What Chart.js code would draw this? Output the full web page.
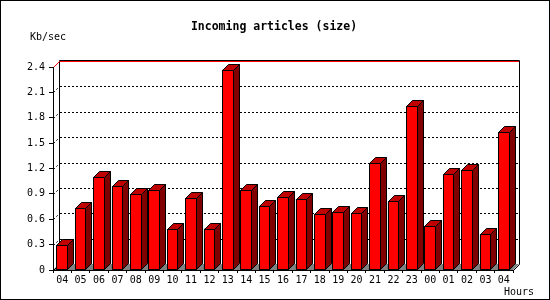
<!DOCTYPE html>
<html>
<head>
<meta charset="utf-8">
<script src="https://cdn.jsdelivr.net/npm/chart.js@4/dist/chart.umd.min.js"></script>
<style>
html,body{margin:0;padding:0;background:#fff;}
canvas{display:block;}
</style>
</head>
<body>
<canvas id="c" width="550" height="300"></canvas>
<script>
const hours = ['04','05','06','07','08','09','10','11','12','13','14','15','16','17','18','19','20','21','22','23','00','01','02','03','04'];
const kbPerSec = [0.29,0.73,1.10,0.99,0.90,0.94,0.48,0.85,0.49,2.37,0.95,0.76,0.86,0.84,0.66,0.69,0.67,1.26,0.81,1.94,0.52,1.13,1.18,0.42,1.63];
const yTickValues = [0,0.3,0.6,0.9,1.2,1.5,1.8,2.1,2.4];
const titleText = 'Incoming articles (size)';
const yUnitText = 'Kb/sec';
const xUnitText = 'Hours';

const D = 6;
const MONO = '"DejaVu Sans Mono", "Liberation Mono", monospace';

const threeD = {
  id: 'threeD',
  beforeDraw(chart) {
    const ctx = chart.ctx;
    const a = chart.chartArea;
    const y = chart.scales.y;
    ctx.save();
    ctx.fillStyle = '#fff';
    ctx.fillRect(0, 0, chart.width, chart.height);
    const L = Math.round(a.left), R = Math.round(a.right), B = Math.round(a.bottom), T = Math.round(a.top);
    // floor
    ctx.fillStyle = '#808080';
    ctx.beginPath();
    ctx.moveTo(L, B); ctx.lineTo(R, B); ctx.lineTo(R + D, B - D); ctx.lineTo(L + D, B - D); ctx.closePath();
    ctx.fill();
    ctx.strokeStyle = '#000'; ctx.lineWidth = 1;
    ctx.beginPath();
    ctx.moveTo(L + 0.5, B + 0.5); ctx.lineTo(L + D + 0.5, B - D + 0.5);
    ctx.moveTo(R + 0.5, B + 0.5); ctx.lineTo(R + D + 0.5, B - D + 0.5);
    ctx.stroke();
    // back wall frame
    ctx.beginPath();
    ctx.moveTo(L + D + 0.5, B - D + 0.5);
    ctx.lineTo(L + D + 0.5, T - D - 0.5);
    ctx.lineTo(R + D + 0.5, T - D - 0.5);
    ctx.lineTo(R + D + 0.5, B - D + 0.5);
    ctx.stroke();
    // gridlines
    yTickValues.forEach(v => {
      if (v === 0) return;
      const py = Math.round(y.getPixelForValue(v));
      const top = v === yTickValues[yTickValues.length - 1];
      ctx.beginPath();
      if (top) {
        ctx.setLineDash([]);
        ctx.strokeStyle = '#ff0000';
        ctx.moveTo(L + 0.5, py + 0.5);
        ctx.lineTo(L + D + 0.5, py - D + 0.5);
        ctx.lineTo(R + D, py - D + 0.5);
      } else {
        ctx.setLineDash([2, 2]);
        ctx.strokeStyle = '#000';
        ctx.moveTo(L + 0.5, py + 0.5);
        ctx.lineTo(L + D + 0.5, py - D + 0.5);
        ctx.moveTo(L + D + 1, py - D + 0.5);
        ctx.lineTo(R + D, py - D + 0.5);
      }
      ctx.stroke();
    });
    ctx.restore();
  },
  afterDatasetsDraw(chart) {
    const ctx = chart.ctx;
    const meta = chart.getDatasetMeta(0);
    ctx.save();
    ctx.lineWidth = 1;
    ctx.strokeStyle = '#000';
    meta.data.forEach(el => {
      const p = el.getProps(['x', 'y', 'base', 'width'], true);
      const l = Math.round(p.x - p.width / 2) + 0.5;
      const r = Math.round(p.x + p.width / 2) - 0.5;
      const t = Math.round(p.y) + 0.5;
      const b = Math.round(p.base) - 0.5;
      // front
      ctx.fillStyle = '#ff0000';
      ctx.fillRect(l, t, r - l, b - t);
      ctx.strokeRect(l, t, r - l, b - t);
      // top
      ctx.fillStyle = '#c00000';
      ctx.beginPath();
      ctx.moveTo(l, t); ctx.lineTo(l + D, t - D); ctx.lineTo(r + D, t - D); ctx.lineTo(r, t); ctx.closePath();
      ctx.fill(); ctx.stroke();
      // side
      ctx.fillStyle = '#800000';
      ctx.beginPath();
      ctx.moveTo(r, t); ctx.lineTo(r + D, t - D); ctx.lineTo(r + D, b - D); ctx.lineTo(r, b); ctx.closePath();
      ctx.fill(); ctx.stroke();
    });
    ctx.restore();
  },
  afterDraw(chart) {
    const ctx = chart.ctx;
    ctx.save();
    ctx.fillStyle = '#000';
    ctx.textBaseline = 'middle';
    ctx.textAlign = 'center';
    ctx.font = 'bold 11.5px ' + MONO;
    ctx.fillText(titleText, 274, 27);
    ctx.font = '10px ' + MONO;
    ctx.textAlign = 'left';
    ctx.fillText(yUnitText, 30, 37);
    ctx.fillText(xUnitText, 504, 292);
    ctx.strokeStyle = '#000';
    ctx.lineWidth = 1;
    ctx.strokeRect(0.5, 0.5, chart.width - 1, chart.height - 1);
    ctx.restore();
  }
};

new Chart(document.getElementById('c'), {
  type: 'bar',
  data: {
    labels: hours,
    datasets: [{
      data: kbPerSec,
      backgroundColor: '#ff0000',
      borderColor: '#000',
      borderWidth: 1,
      categoryPercentage: 1,
      barPercentage: 0.62
    }]
  },
  options: {
    responsive: false,
    animation: false,
    events: [],
    layout: { padding: { left: 0, top: 67, right: 37, bottom: 0 } },
    plugins: { legend: { display: false }, tooltip: { enabled: false }, title: { display: false } },
    scales: {
      x: {
        offset: true,
        grid: { offset: true, drawOnChartArea: false, drawTicks: true, tickLength: 3, color: '#000' },
        border: { display: true, color: '#000' },
        ticks: { color: '#000', font: { family: MONO, size: 10 }, maxRotation: 0, autoSkip: false, padding: 1 },
        afterFit(s) { s.height = 30; }
      },
      y: {
        min: 0,
        max: 2.4,
        afterBuildTicks(s) { s.ticks = yTickValues.map(v => ({ value: v })); },
        grid: { drawOnChartArea: false, drawTicks: true, tickLength: 4, color: '#000' },
        border: { display: true, color: '#000' },
        ticks: {
          color: '#000', font: { family: MONO, size: 10 }, padding: 4,
          callback: v => v === 0 ? '0' : Number(v).toFixed(1)
        },
        afterFit(s) { s.width = 53; }
      }
    }
  },
  plugins: [threeD]
});
</script>
</body>
</html>
